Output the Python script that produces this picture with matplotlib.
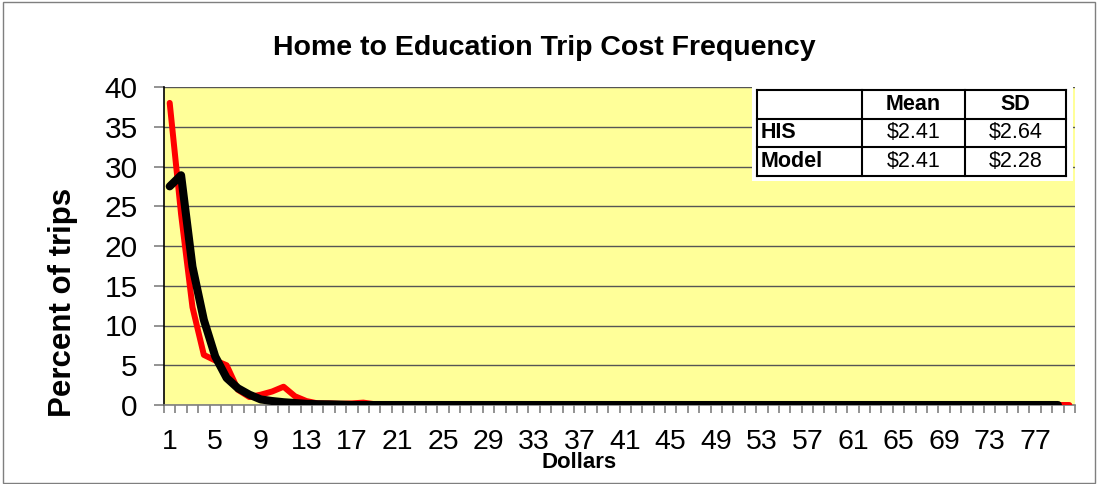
import matplotlib
matplotlib.use("Agg")
import matplotlib.pyplot as plt
from matplotlib.patches import Rectangle
from matplotlib.ticker import MultipleLocator, FixedLocator

plt.rcParams['font.family'] = ['Liberation Sans', 'DejaVu Sans']

# Trip cost categories in dollars
dollars = list(range(1, 81))

# Percent of trips per dollar bin, household survey
his_pct = [38.0, 24.0, 12.3, 6.3, 5.6, 5.0, 1.9, 1.0, 1.3, 1.7,
           2.3, 1.1, 0.5, 0.2, 0.2, 0.15, 0.2, 0.3, 0.1, 0.05] + [0.0] * 60

# Percent of trips per dollar bin, model output
model_pct = [27.5, 28.9, 17.4, 10.7, 6.1, 3.4, 2.1, 1.3, 0.7, 0.5,
             0.35, 0.25, 0.15, 0.1, 0.08, 0.05] + [0.0] * 63

tick_labels = [str(v) for v in range(1, 80, 4)]

stats_cols = ["", "Mean", "SD"]
stats_rows = [["HIS", "$2.41", "$2.64"],
              ["Model", "$2.41", "$2.28"]]

W, H = 1099, 484
fig = plt.figure(figsize=(W / 100, H / 100), dpi=100)

# outer chart border
fig.patches.append(Rectangle((3 / W, 1 / H), (W - 7) / W, (H - 3) / H,
                             transform=fig.transFigure, fill=False,
                             edgecolor="#7f7f7f", linewidth=1.0))

L, R, T, B = 164, 1075, 87, 405
ax = fig.add_axes([L / W, 1 - B / H, (R - L) / W, (B - T) / H])
ax.set_facecolor("#FFFF99")

ax.plot(dollars, his_pct, color="#FF0000", linewidth=4.3,
        solid_joinstyle="round", solid_capstyle="round", zorder=3)
ax.plot(dollars[:len(model_pct)], model_pct, color="black", linewidth=5.8,
        solid_joinstyle="round", solid_capstyle="round", zorder=4)

ax.set_xlim(0.5, 80.5)
ax.set_ylim(0, 40)
ax.yaxis.set_major_locator(MultipleLocator(5))
ax.grid(axis="y", color="#555555", linewidth=1.0)
ax.set_axisbelow(True)

ax.xaxis.set_major_locator(FixedLocator(list(range(1, 80, 4))))
ax.set_xticklabels(tick_labels)
ax.xaxis.set_minor_locator(FixedLocator([i + 0.5 for i in range(0, 81)]))
ax.tick_params(axis="x", which="major", length=0, labelsize=20.5, pad=17)
ax.tick_params(axis="x", which="minor", length=6, color="#808080", width=1.2)
ax.tick_params(axis="y", which="major", length=7, color="#808080",
               width=1.2, labelsize=21.5, pad=12)

for s in ("top", "right"):
    ax.spines[s].set_visible(False)
ax.spines["left"].set_color("black")
ax.spines["left"].set_linewidth(1.2)
ax.spines["bottom"].set_color("#808080")
ax.spines["bottom"].set_linewidth(1.2)

fig.text(544 / W, 1 - 48 / H, "Home to Education Trip Cost Frequency",
         ha="center", va="center", fontsize=20.5, fontweight="bold")
fig.text(63 / W, 1 - 302 / H, "Percent of trips", rotation=90,
         ha="center", va="center", fontsize=22.5, fontweight="bold")
fig.text(579 / W, 1 - 462 / H, "Dollars", ha="center", va="center",
         fontsize=16, fontweight="bold")

# summary statistics box
fig.patches.append(Rectangle((752 / W, 1 - 181 / H), 321 / W, 97 / H,
                             transform=fig.transFigure, facecolor="white",
                             edgecolor="none", zorder=5))
col_x = [757, 862, 965, 1066]
row_y = [90, 119, 147, 176]
for x in col_x:
    fig.add_artist(plt.Line2D([x / W, x / W], [1 - row_y[0] / H, 1 - row_y[-1] / H],
                              color="black", linewidth=1.5, zorder=6))
for y in row_y:
    fig.add_artist(plt.Line2D([col_x[0] / W, col_x[-1] / W], [1 - y / H, 1 - y / H],
                              color="black", linewidth=1.5, zorder=6))

def cell_center(ci, ri):
    return ((col_x[ci] + col_x[ci + 1]) / 2 / W,
            1 - (row_y[ri] + row_y[ri + 1]) / 2 / H)

for ci, name in enumerate(stats_cols):
    if name:
        cx, cy = cell_center(ci, 0)
        fig.text(cx, cy, name, ha="center", va="center", fontsize=15.5,
                 fontweight="bold", zorder=7)
for ri, row in enumerate(stats_rows, start=1):
    cx, cy = cell_center(0, ri)
    fig.text((col_x[0] + 4) / W, cy, row[0], ha="left", va="center",
             fontsize=15.5, fontweight="bold", zorder=7)
    for ci in (1, 2):
        cx, cy = cell_center(ci, ri)
        fig.text(cx, cy, row[ci], ha="center", va="center", fontsize=15.5,
                 zorder=7)

fig.savefig("out.png", dpi=100)
